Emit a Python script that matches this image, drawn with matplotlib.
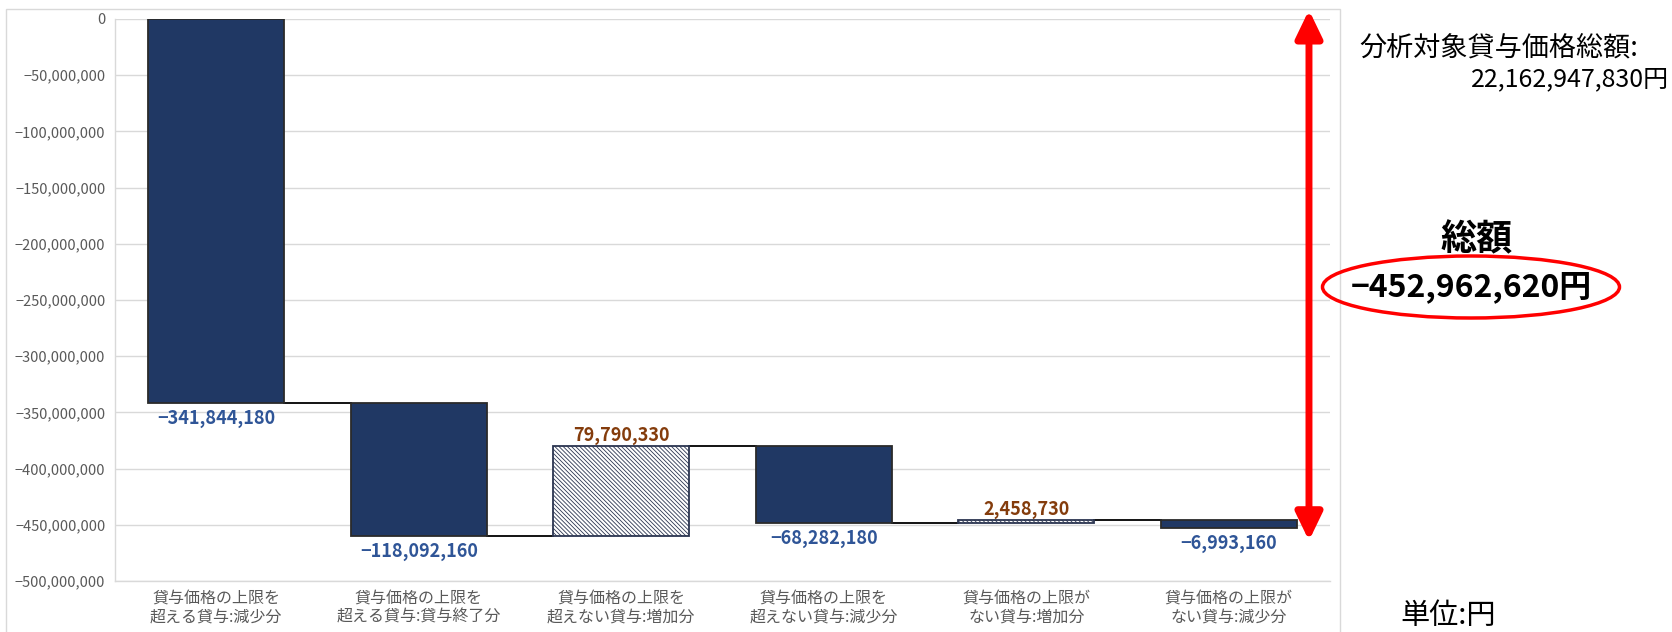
import numpy as np
import matplotlib
matplotlib.use("Agg")
import matplotlib.pyplot as plt
from matplotlib.patches import Rectangle, Ellipse, FancyArrowPatch
from matplotlib.ticker import FuncFormatter, MultipleLocator

plt.rcParams['font.family'] = ['Noto Sans CJK JP', 'DejaVu Sans']
plt.rcParams['hatch.linewidth'] = 0.6

categories = [
    "貸与価格の上限を\n超える貸与:減少分",
    "貸与価格の上限を\n超える貸与:貸与終了分",
    "貸与価格の上限を\n超えない貸与:増加分",
    "貸与価格の上限を\n超えない貸与:減少分",
    "貸与価格の上限が\nない貸与:増加分",
    "貸与価格の上限が\nない貸与:減少分",
]
changes = [-341844180, -118092160, 79790330, -68282180, 2458730, -6993160]
total_label = "総額"
total_text = "−452,962,620円"
base_title = "分析対象貸与価格総額:"
base_value = "22,162,947,830円"
unit_text = "単位:円"

NAVY = "#203864"
EDGE = "#2a2a2a"
NEG_TXT = "#2F5597"
POS_TXT = "#843C0C"
GRID = "#D9D9D9"
TICK = "#595959"


def fmt(v):
    return f"{v:,.0f}".replace("-", "−")


W, H = 1672, 632
fig = plt.figure(figsize=(W / 100, H / 100), dpi=100)
ax = fig.add_axes([115 / W, 1 - 581 / H, (1330 - 115) / W, (581 - 19) / H])

# outer chart frame
fig.patches.append(Rectangle((6 / W, -0.05), (1340 - 6) / W, 1.05 - 9 / H,
                             transform=fig.transFigure, fill=False,
                             edgecolor=GRID, lw=1.0))

x = np.arange(len(changes))
ends = np.cumsum(changes)
starts = ends - np.array(changes)
width = 0.672

for i, v in enumerate(changes):
    if v < 0:
        ax.bar(x[i], v, bottom=starts[i], width=width, color=NAVY,
               edgecolor=EDGE, lw=1.3, zorder=3)
        ax.annotate(fmt(v), (x[i], ends[i]), xytext=(0, -4),
                    textcoords="offset points", ha="center", va="top",
                    fontsize=13, fontweight="bold", color=NEG_TXT)
    else:
        ax.bar(x[i], v, bottom=starts[i], width=width, color="white",
               edgecolor="#2b3550", hatch="\\" * 8, lw=1.3, zorder=3)
        ax.annotate(fmt(v), (x[i], ends[i]), xytext=(0, 1),
                    textcoords="offset points", ha="center", va="bottom",
                    fontsize=13, fontweight="bold", color=POS_TXT)

# connectors
for i in range(len(changes) - 1):
    ax.plot([x[i] + width / 2, x[i + 1] - width / 2], [ends[i], ends[i]],
            color="black", lw=1.3, zorder=2)

ax.set_xlim(-0.5, len(changes) - 0.5)
ax.set_ylim(-500000000, 0)
ax.yaxis.set_major_locator(MultipleLocator(50000000))
ax.yaxis.set_major_formatter(FuncFormatter(lambda v, p: fmt(v)))
ax.set_xticks(x)
ax.set_xticklabels(categories, fontsize=11.5, color=TICK, linespacing=1.1)
ax.tick_params(axis="y", length=0, pad=7, labelsize=10.5, labelcolor=TICK)
ax.tick_params(axis="x", length=0, pad=7)
ax.grid(axis="y", color=GRID, lw=1.0, zorder=0)
for s in ["top", "right"]:
    ax.spines[s].set_visible(False)
for s in ["left", "bottom"]:
    ax.spines[s].set_color(GRID)
    ax.spines[s].set_linewidth(1.0)

# red double arrow from 0 to total
ytr = ax.get_yaxis_transform()
pad = 500000000 * 9 / 562
arrow = FancyArrowPatch((0.9827, 0 + pad), (0.9827, ends[-1] - 1.4 * pad),
                        transform=ytr, arrowstyle="<|-|>,head_length=0.83,head_width=0.4",
                        mutation_scale=20, color="#FF0000", lw=5, shrinkA=0, shrinkB=0,
                        clip_on=False, zorder=5)
ax.add_patch(arrow)

# right-hand annotations
fig.text(1359 / W, 1 - 48 / H, base_title, fontsize=19.5, ha="left", va="center")
fig.text(1669 / W, 1 - 79 / H, base_value, fontsize=18, ha="right", va="center")
fig.text(1477 / W, 1 - 240 / H, total_label, fontsize=26, fontweight="bold",
         ha="center", va="center")
fig.text(1471 / W, 1 - 287 / H, total_text, fontsize=23, fontweight="bold",
         ha="center", va="center")
fig.patches.append(Ellipse((1471 / W, 1 - 287 / H), 297 / W, 62 / H,
                           transform=fig.transFigure, fill=False,
                           edgecolor="#FF0000", lw=2.5))
fig.text(1400 / W, 1 / H, unit_text, fontsize=21, ha="left", va="bottom")

fig.savefig("out.png", dpi=100)
